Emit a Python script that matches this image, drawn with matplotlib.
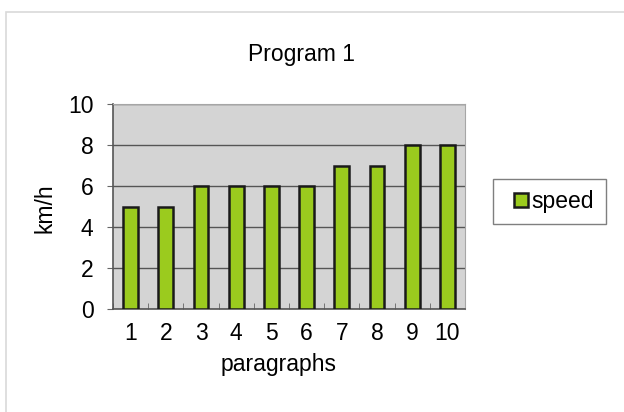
import numpy as np
import matplotlib.pyplot as plt
from matplotlib.patches import Rectangle

plt.rcParams['font.family'] = ['Liberation Sans', 'DejaVu Sans']

# 数据
paragraphs = ['1', '2', '3', '4', '5', '6', '7', '8', '9', '10']
speed = [5, 5, 6, 6, 6, 6, 7, 7, 8, 8]

fs = 16.5

fig = plt.figure(figsize=(6.24, 4.12), dpi=100)
fig.patch.set_facecolor('white')

# 外框
fig.patches.append(Rectangle((6 / 624, -0.05), 1.0, 1 - 12 / 412 + 0.05,
                             transform=fig.transFigure, fill=False,
                             edgecolor='#d9d9d9', linewidth=1.2))

ax = fig.add_axes([113 / 624, 1 - 309 / 412, 352 / 624, 205 / 412])
ax.set_facecolor('#d4d4d4')

x = np.arange(len(paragraphs))
ax.bar(x, speed, width=0.42, color='#9bcb1e', edgecolor='#1a1a1a',
       linewidth=1.8, label='speed', zorder=3)

ax.set_xlim(-0.5, len(paragraphs) - 0.5)
ax.set_ylim(0, 10)
ax.set_yticks([0, 2, 4, 6, 8, 10])
ax.set_xticks(x)
ax.set_xticklabels(paragraphs)
ax.set_xticks(np.arange(-0.5, len(paragraphs)), minor=True)
ax.tick_params(axis='x', which='major', length=0, labelsize=fs, pad=9)
ax.tick_params(axis='x', which='minor', direction='in', length=4, color='#666666')
ax.tick_params(axis='y', direction='out', length=4, labelsize=fs, color='#666666', pad=10)
ax.yaxis.grid(True, color='#555555', linewidth=1.0, zorder=1)

for s in ['top', 'right']:
    ax.spines[s].set_color('#a6a6a6')
for s in ['left', 'bottom']:
    ax.spines[s].set_color('#555555')
    ax.spines[s].set_linewidth(1.2)

# 标题和轴标签
fig.text(279 / 624, 1 - 365 / 412, 'paragraphs', fontsize=fs, ha='center', va='center')
fig.text(45 / 624, 1 - 208 / 412, 'km/h', fontsize=fs, ha='center', va='center', rotation=90)
fig.text(302 / 624, 1 - 55 / 412, 'Program 1', fontsize=fs, ha='center', va='center')

# 图例
fig.patches.append(Rectangle((493 / 624, 1 - 224 / 412), 113 / 624, 45 / 412,
                             transform=fig.transFigure, fill=False,
                             edgecolor='#7f7f7f', linewidth=1.0))
ax.legend(loc='center', bbox_to_anchor=(554 / 624, 1 - 201.5 / 412),
          bbox_transform=fig.transFigure, fontsize=fs, frameon=False,
          handlelength=0.6, handleheight=0.6, handletextpad=0.15,
          borderpad=0, borderaxespad=0)

plt.savefig('out.png', dpi=100)
